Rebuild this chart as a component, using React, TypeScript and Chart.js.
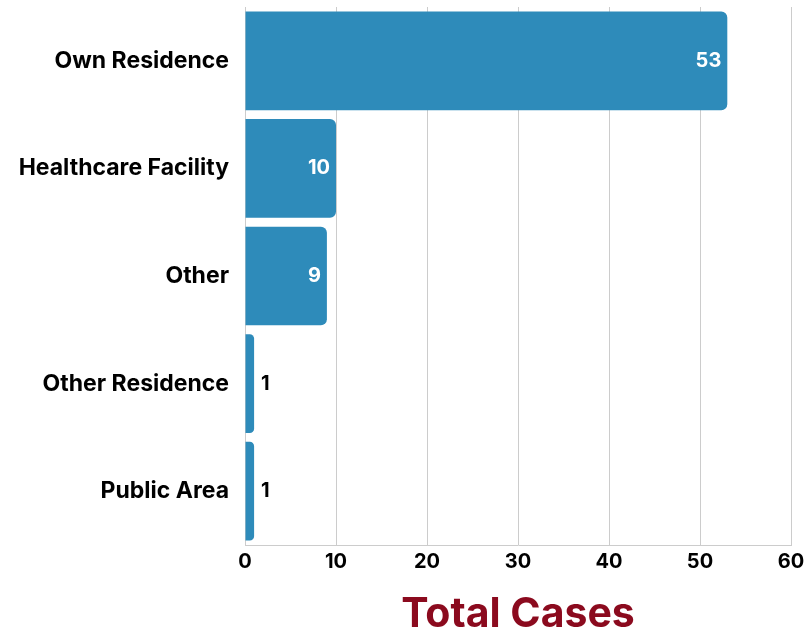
import React, { useEffect, useRef } from "react";
import { Chart, registerables } from "chart.js";

Chart.register(...registerables);

const categories = ["Own Residence", "Healthcare Facility", "Other", "Other Residence", "Public Area"];
const totalCases = [53, 10, 9, 1, 1];
const xTicks = [0, 10, 20, 30, 40, 50, 60];
const axisTitle = "Total Cases";

const FONT = "Inter, 'Open Sans', sans-serif";
const BAR_COLOR = "#2E8BBA";

const valueLabels = {
  id: "valueLabels",
  afterDatasetsDraw(chart: any) {
    const ctx = chart.ctx;
    const meta = chart.getDatasetMeta(0);
    const data = chart.data.datasets[0].data as number[];
    ctx.save();
    ctx.font = `bold 20px ${FONT}`;
    ctx.textBaseline = "middle";
    meta.data.forEach((bar: any, i: number) => {
      const width = bar.x - bar.base;
      const txt = String(data[i]);
      if (width > 40) {
        ctx.fillStyle = "#ffffff";
        ctx.textAlign = "right";
        ctx.fillText(txt, bar.x - 6, bar.y);
      } else {
        ctx.fillStyle = "#000000";
        ctx.textAlign = "left";
        ctx.fillText(txt, bar.x + 7, bar.y);
      }
    });
    ctx.restore();
  },
};

export default function App() {
  const ref = useRef<HTMLCanvasElement | null>(null);
  useEffect(() => {
    if (!ref.current) return;
    const chart = new Chart(ref.current, {
      type: "bar",
      data: {
        labels: categories,
        datasets: [
          {
            data: totalCases,
            backgroundColor: BAR_COLOR,
            borderRadius: 6,
            borderSkipped: "start",
            categoryPercentage: 0.917,
            barPercentage: 1,
          },
        ],
      },
      options: {
        indexAxis: "y",
        animation: false,
        responsive: false,
        maintainAspectRatio: false,
        layout: { padding: { top: 7, right: 21, bottom: 0, left: 0 } },
        plugins: {
          legend: { display: false },
          tooltip: { enabled: false },
        },
        scales: {
          x: {
            min: 0,
            max: 60,
            afterBuildTicks: (scale: any) => {
              scale.ticks = xTicks.map((v) => ({ value: v }));
            },
            afterFit: (scale: any) => {
              scale.paddingLeft = 0;
              scale.paddingRight = 0;
            },
            grid: { color: "#cccccc", lineWidth: 1, drawTicks: false },
            border: { display: true, color: "#cccccc" },
            ticks: {
              color: "#000000",
              font: { family: FONT, size: 20, weight: "bold" },
              padding: 5,
            },
            title: {
              display: true,
              text: axisTitle,
              color: "#8B0A1E",
              font: { family: FONT, size: 41, weight: "bold", lineHeight: 1 },
              padding: { top: 15, bottom: 0 },
            },
          },
          y: {
            grid: { display: false, drawTicks: false },
            border: { display: false },
            ticks: {
              color: "#000000",
              font: { family: FONT, size: 23, weight: "bold" },
              padding: 16,
            },
            afterFit: (scale: any) => {
              scale.width = 245;
              scale.paddingTop = 0;
              scale.paddingBottom = 0;
            },
          },
        },
      },
      plugins: [valueLabels],
    });
    return () => chart.destroy();
  }, []);
  return (
    <div style={{ position: "fixed", left: 0, top: 0, width: 812, height: 635, background: "#fff" }}>
      <canvas ref={ref} width={812} height={635} style={{ width: 812, height: 635, display: "block" }} />
    </div>
  );
}
